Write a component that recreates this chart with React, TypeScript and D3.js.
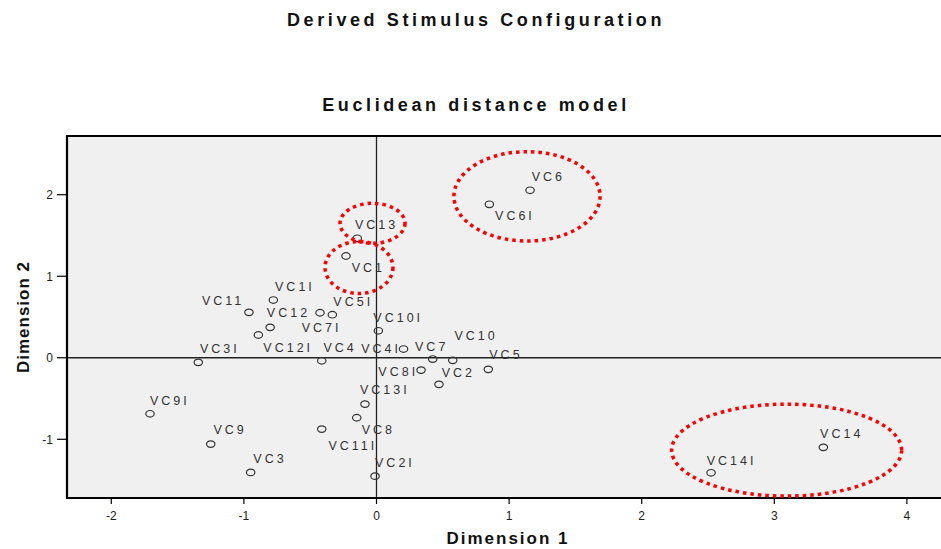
import React from "react";
import * as d3 from "d3";

// ---- Data ----
const stimuli = [
  "VC1", "VC2", "VC3", "VC4", "VC5", "VC6", "VC7", "VC8", "VC9", "VC10", "VC11", "VC12", "VC13", "VC14",
  "VC1I", "VC2I", "VC3I", "VC4I", "VC5I", "VC6I", "VC7I", "VC8I", "VC9I", "VC10I", "VC11I", "VC12I", "VC13I", "VC14I",
];
const dimension1 = [
  -0.230, 0.471, -0.949, -0.413, 0.843, 1.158, 0.424, -0.149, -1.250, 0.575, -0.962, -0.802, -0.145, 3.370,
  -0.778, -0.011, -1.344, 0.204, -0.333, 0.851, -0.426, 0.336, -1.708, 0.014, -0.413, -0.891, -0.087, 2.523,
];
const dimension2 = [
  1.248, -0.326, -1.406, -0.037, -0.142, 2.054, -0.016, -0.736, -1.059, -0.032, 0.557, 0.373, 1.465, -1.099,
  0.708, -1.452, -0.056, 0.107, 0.528, 1.882, 0.552, -0.151, -0.687, 0.331, -0.875, 0.279, -0.568, -1.411,
];
const xTicks = [-2, -1, 0, 1, 2, 3, 4];
const yTicks = [-1, 0, 1, 2];

// Highlight rings (data units): centre x, centre y, radius x, radius y
const ringCx = [1.135, -0.030, -0.132, 3.093];
const ringCy = [1.980, 1.649, 1.107, -1.133];
const ringRx = [0.551, 0.245, 0.256, 0.867];
const ringRy = [0.548, 0.245, 0.319, 0.564];

// Label placement (pixel offsets from point: text start, baseline)
const labelOffset: Record<string, [number, number]> = {
  VC1: [5.7, 15.7], VC2: [2.7, -7], VC3: [2.7, -9.7], VC4: [1.7, -8.3], VC5: [1, -10],
  VC6: [1.7, -9.7], VC7: [-17.7, -8.3], VC8: [5, 16.6], VC9: [2.7, -9.7], VC10: [1.7, -20.3],
  VC11: [-47, -7.3], VC12: [-3.3, -10], VC13: [-2.3, -9], VC14: [-3.3, -9],
  VC1I: [1.7, -9.3], VC2I: [0, -9.3], VC3I: [1.7, -9], VC4I: [-42.3, 4.3], VC5I: [1, -9],
  VC6I: [5.7, 15.7], VC7I: [-18.3, 19], VC8I: [-42.7, 5.7], VC9I: [0, -8.7], VC10I: [-5, -9],
  VC11I: [6.7, 21], VC12I: [5, 17.3], VC13I: [-5, -9.7], VC14I: [-4.3, -7.7],
};

const W = 941;
const H = 549;
const plot = { left: 67, right: 941, top: 136, bottom: 498 };

export default function App() {
  const x = d3.scaleLinear().domain([-2.334, 4.257]).range([plot.left, plot.right]);
  const y = d3.scaleLinear().domain([-1.72, 2.72]).range([plot.bottom, plot.top]);
  const font = "Arial, 'Liberation Sans', sans-serif";

  return (
    <svg
      width={W}
      height={H}
      style={{ position: "absolute", left: 0, top: 0, background: "#fff" }}
      fontFamily={font}
    >
      {/* titles */}
      <text x={476} y={26} textAnchor="middle" fontSize={18} fontWeight="bold" letterSpacing={3.6} fill="#111">
        Derived Stimulus Configuration
      </text>
      <text x={476} y={111} textAnchor="middle" fontSize={18} fontWeight="bold" letterSpacing={3.6} fill="#111">
        Euclidean distance model
      </text>

      {/* plot area */}
      <rect x={plot.left} y={plot.top} width={plot.right - plot.left} height={plot.bottom - plot.top} fill="#f0f0f0" />

      {/* reference lines at zero */}
      <line x1={x(0)} x2={x(0)} y1={plot.top} y2={plot.bottom} stroke="#222" strokeWidth={1.3} />
      <line x1={plot.left} x2={plot.right} y1={y(0)} y2={y(0)} stroke="#222" strokeWidth={1.3} />

      {/* borders */}
      <line x1={plot.left} x2={plot.right} y1={plot.top} y2={plot.top} stroke="#000" strokeWidth={2} />
      <line x1={plot.left} x2={plot.left} y1={plot.top - 1} y2={plot.bottom + 1} stroke="#000" strokeWidth={2.2} />
      <line x1={plot.left - 1} x2={plot.right} y1={plot.bottom} y2={plot.bottom} stroke="#000" strokeWidth={2.2} />

      {/* x axis ticks */}
      {xTicks.map((t) => (
        <g key={"xt" + t}>
          <line x1={x(t)} x2={x(t)} y1={plot.bottom} y2={plot.bottom + 6} stroke="#000" strokeWidth={1.2} />
          <text x={x(t)} y={520} textAnchor="middle" fontSize={12} fill="#222">
            {t}
          </text>
        </g>
      ))}
      {/* y axis ticks */}
      {yTicks.map((t) => (
        <g key={"yt" + t}>
          <line x1={plot.left - 10} x2={plot.left} y1={y(t)} y2={y(t)} stroke="#000" strokeWidth={1.2} />
          <text x={53} y={y(t) + 4.5} textAnchor="end" fontSize={12} fill="#222">
            {t}
          </text>
        </g>
      ))}

      {/* axis titles */}
      <text x={508} y={544} textAnchor="middle" fontSize={17} fontWeight="bold" letterSpacing={2} fill="#111">
        Dimension 1
      </text>
      <text
        transform={`translate(29,${(plot.top + plot.bottom) / 2}) rotate(-90)`}
        textAnchor="middle"
        fontSize={17}
        fontWeight="bold"
        letterSpacing={1}
        fill="#111"
      >
        Dimension 2
      </text>

      {/* points */}
      {stimuli.map((name, i) => {
        const px = x(dimension1[i]);
        const py = y(dimension2[i]);
        const off = labelOffset[name] || [2, -9];
        return (
          <g key={name}>
            <ellipse cx={px} cy={py} rx={4.2} ry={3.3} fill="none" stroke="#333" strokeWidth={1.2} />
            <text x={px + off[0]} y={py + off[1]} fontSize={12.5} letterSpacing={3} fill="#333">
              {name}
            </text>
          </g>
        );
      })}

      {/* highlight rings */}
      {ringCx.map((cx, i) => (
        <ellipse
          key={"ring" + i}
          cx={x(cx)}
          cy={y(ringCy[i])}
          rx={x(ringRx[i]) - x(0)}
          ry={y(0) - y(ringRy[i])}
          fill="none"
          stroke="#ff0000"
          strokeWidth={3.5}
          strokeDasharray="3.5 4"
        />
      ))}
    </svg>
  );
}
